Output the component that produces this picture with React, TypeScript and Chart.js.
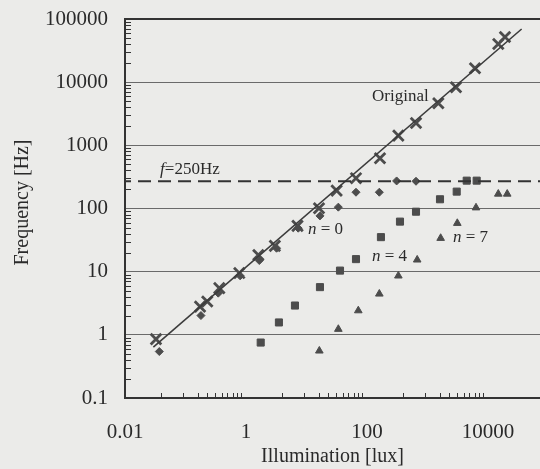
import React, { useEffect, useRef } from "react";
import { Chart, registerables } from "chart.js";

Chart.register(...registerables);

// ---- Data ----
const originalLux = [0.0325, 0.174, 0.229, 0.362, 0.775, 1.6, 3.0, 7.1, 16.1, 31.5, 65.8, 164, 330, 646, 1511, 2960, 6100, 14800, 19100];
const originalHz = [0.855, 2.8, 3.37, 5.48, 9.5, 18.4, 25.6, 53, 101, 192, 302, 625, 1423, 2262, 4640, 8300, 16600, 40200, 52000];

const n0Lux = [0.0369, 0.18, 0.348, 0.8, 1.66, 3.2, 7.3, 16.7, 33.6, 65.8, 160, 309, 646];
const n0Hz = [0.544, 2.02, 4.57, 8.6, 15, 23.5, 48.8, 76.4, 105, 181, 181, 273, 270];

const n4Lux = [1.75, 3.5, 6.45, 16.7, 35.8, 65.8, 170, 351, 646, 1610, 3040, 4450, 6500];
const n4Hz = [0.755, 1.57, 2.91, 5.69, 10.4, 15.8, 35.2, 62, 89, 140, 185, 276, 276];

const n7Lux = [16.3, 33.6, 71.8, 160, 330, 676, 1650, 3110, 6340, 14800, 20800];
const n7Hz = [0.558, 1.23, 2.42, 4.45, 8.6, 15.4, 33.9, 58.5, 103, 170, 170];

const fitLux = [0.0294, 36000];
const fitHz = [0.64, 69500];

const thresholdHz = 270;

const xMin = 0.01;
const xMax = 72400;
const yMin = 0.1;
const yMax = 100000;

const xTickValues = [0.01, 1, 100, 10000];
const xTickLabels = ["0.01", "1", "100", "10000"];
const yTickValues = [0.1, 1, 10, 100, 1000, 10000, 100000];
const yTickLabels = ["0.1", "1", "10", "100", "1000", "10000", "100000"];

const xMinorBases = [0.01, 1, 100];
const xMinorMultipliers = [4, 9, 16, 23, 31, 40, 49, 61, 72, 84];
const yMinorDecades = [0.1, 1, 10, 100, 1000, 10000];
const yMinorMultipliers = [2, 3, 4, 5, 6, 7, 8, 9];

const xTitle = "Illumination [lux]";
const yTitle = "Frequency [Hz]";

type Part = [string, boolean];
const annotations: { parts: Part[]; lux: number; hz: number }[] = [
  { parts: [["Original", false]], lux: 121, hz: 5830 },
  { parts: [["f", true], ["=250Hz", false]], lux: 0.038, hz: 408 },
  { parts: [["n", true], [" = 0", false]], lux: 10.6, hz: 47 },
  { parts: [["n", true], [" = 4", false]], lux: 121, hz: 17.1 },
  { parts: [["n", true], [" = 7", false]], lux: 2640, hz: 34.3 },
];

// ---- Styles ----
const FONT = "'Liberation Serif', 'Times New Roman', serif";
const BG = "#ebebe9";
const TEXT = "#2a2a2a";
const AXIS = "#333333";
const GRID = "#6a6a6a";
const MARK = "#4c4c4c";

const pts = (xs: number[], ys: number[]) => xs.map((x, i) => ({ x, y: ys[i] }));

const overlayPlugin = {
  id: "overlay",
  afterDraw(chart: any) {
    const { ctx, chartArea } = chart;
    const x = chart.scales.x;
    const y = chart.scales.y;
    ctx.save();
    // minor ticks
    ctx.strokeStyle = AXIS;
    ctx.lineWidth = 1;
    ctx.beginPath();
    for (const d of yMinorDecades) {
      for (const k of yMinorMultipliers) {
        const py = Math.round(y.getPixelForValue(k * d)) + 0.5;
        ctx.moveTo(chartArea.left, py);
        ctx.lineTo(chartArea.left + 6, py);
      }
    }
    for (const b of xMinorBases) {
      for (const m of xMinorMultipliers) {
        const px = Math.round(x.getPixelForValue(b * m)) + 0.5;
        ctx.moveTo(px, chartArea.bottom);
        ctx.lineTo(px, chartArea.bottom - 5);
      }
    }
    ctx.stroke();

    // annotations
    ctx.fillStyle = TEXT;
    ctx.textBaseline = "middle";
    ctx.textAlign = "left";
    for (const a of annotations) {
      let px = x.getPixelForValue(a.lux);
      const py = y.getPixelForValue(a.hz);
      for (const [t, it] of a.parts) {
        ctx.font = `${it ? "italic " : ""}17px ${FONT}`;
        ctx.fillText(t, px, py);
        px += ctx.measureText(t).width;
      }
    }

    // y title
    ctx.translate(23, (chartArea.top + chartArea.bottom) / 2 - 6);
    ctx.rotate(-Math.PI / 2);
    ctx.textAlign = "center";
    ctx.font = `20px ${FONT}`;
    ctx.fillText(yTitle, 0, 0);
    ctx.restore();
  },
};

export default function App() {
  const ref = useRef<HTMLCanvasElement | null>(null);

  useEffect(() => {
    if (!ref.current) return;
    const chart = new Chart(ref.current, {
      type: "scatter",
      data: {
        datasets: [
          {
            label: "threshold",
            data: [
              { x: xMin, y: thresholdHz },
              { x: xMax, y: thresholdHz },
            ],
            showLine: true,
            borderColor: AXIS,
            borderWidth: 2,
            borderDash: [13, 7],
            borderDashOffset: -13,
            pointRadius: 0,
          },
          {
            label: "fit",
            data: pts(fitLux, fitHz),
            showLine: true,
            borderColor: "#3c3c3c",
            borderWidth: 1.6,
            pointRadius: 0,
          },
          {
            label: "Original",
            data: pts(originalLux, originalHz),
            pointStyle: "crossRot",
            pointRadius: 7.5,
            borderColor: MARK,
            backgroundColor: MARK,
            pointBorderWidth: 2.8,
          },
          {
            label: "n=0",
            data: pts(n0Lux, n0Hz),
            pointStyle: "rectRot",
            pointRadius: 4,
            borderColor: MARK,
            backgroundColor: MARK,
            pointBorderWidth: 1,
          },
          {
            label: "n=4",
            data: pts(n4Lux, n4Hz),
            pointStyle: "rect",
            pointRadius: 5,
            borderColor: MARK,
            backgroundColor: MARK,
            pointBorderWidth: 1,
          },
          {
            label: "n=7",
            data: pts(n7Lux, n7Hz),
            pointStyle: "triangle",
            pointRadius: 4.4,
            borderColor: MARK,
            backgroundColor: MARK,
            pointBorderWidth: 1,
          },
        ],
      },
      options: {
        responsive: false,
        animation: false,
        events: [],
        layout: { autoPadding: false, padding: { top: 19, left: 0, right: 0, bottom: 0 } },
        plugins: {
          legend: { display: false },
          tooltip: { enabled: false },
        },
        scales: {
          x: {
            type: "logarithmic",
            position: "bottom",
            min: xMin,
            max: xMax,
            afterBuildTicks: (s: any) => {
              s.ticks = xTickValues.map((v) => ({ value: v }));
            },
            afterFit: (s: any) => {
              s.height = 71;
              s.paddingLeft = 0;
              s.paddingRight = 0;
              s.paddingTop = 0;
              s.paddingBottom = 0;
            },
            ticks: {
              autoSkip: false,
              maxRotation: 0,
              padding: 22,
              color: TEXT,
              font: { family: FONT, size: 21 },
              callback: (v: any) => {
                const i = xTickValues.indexOf(Number(v));
                return i >= 0 ? xTickLabels[i] : "";
              },
            },
            grid: { display: false, drawTicks: false },
            border: { display: true, color: AXIS, width: 2 },
            title: {
              display: true,
              text: xTitle,
              color: TEXT,
              font: { family: FONT, size: 20 },
              padding: { top: 0, bottom: 0 },
            },
          },
          y: {
            type: "logarithmic",
            position: "left",
            min: yMin,
            max: yMax,
            afterBuildTicks: (s: any) => {
              s.ticks = yTickValues.map((v) => ({ value: v }));
            },
            afterFit: (s: any) => {
              s.width = 125;
              s.paddingLeft = 0;
              s.paddingRight = 0;
              s.paddingTop = 0;
              s.paddingBottom = 0;
            },
            ticks: {
              autoSkip: false,
              padding: 17,
              color: TEXT,
              font: { family: FONT, size: 21 },
              callback: (v: any) => {
                const i = yTickValues.indexOf(Number(v));
                return i >= 0 ? yTickLabels[i] : "";
              },
            },
            grid: {
              drawTicks: false,
              color: (c: any) => (c.tick && c.tick.value === yMax ? AXIS : GRID),
              lineWidth: (c: any) => (c.tick && c.tick.value === yMax ? 2 : 1),
            },
            border: { display: true, color: AXIS, width: 2 },
          },
        },
      },
      plugins: [overlayPlugin],
    } as any);
    return () => chart.destroy();
  }, []);

  return (
    <div
      style={{
        position: "fixed",
        left: 0,
        top: 0,
        width: 540,
        height: 469,
        background: BG,
        overflow: "hidden",
      }}
    >
      <canvas ref={ref} width={540} height={469} style={{ display: "block" }} />
    </div>
  );
}
